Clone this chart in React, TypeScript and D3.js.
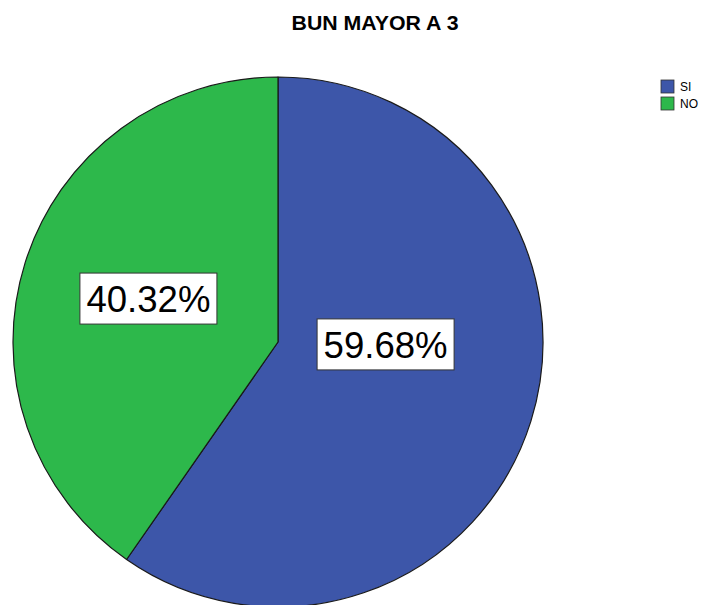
import React from "react";
import * as d3 from "d3";

const categories = ["SI", "NO"];
const values = [59.68, 40.32];
const colors = ["#3D56A9", "#2DB84B"];
const labelTexts = ["59.68%", "40.32%"];
const title = "BUN MAYOR A 3";

const W = 703;
const H = 605;
const cx = 278;
const cy = 342;
const R = 265;
// label layout offsets (relative to pie center, as fraction of radius)
const labelOffsets = [
  [0.406, 0.011],
  [-0.489, -0.162],
];

export default function App() {
  const pie = d3.pie<number>().sort(null).startAngle(0).endAngle(2 * Math.PI)(values);
  const arc = d3.arc<d3.PieArcDatum<number>>().innerRadius(0).outerRadius(R);
  return (
    <svg width={W} height={H} style={{ position: "absolute", left: 0, top: 0, background: "#fff" }}>
      <rect width={W} height={H} fill="#fff" />
      <text x={375} y={30} textAnchor="middle" fontFamily="Liberation Sans, Arial, sans-serif" fontWeight="bold" fontSize={20} textLength={167} lengthAdjust="spacingAndGlyphs">
        {title}
      </text>
      <g transform={`translate(${cx},${cy})`}>
        {pie.map((d, i) => (
          <path key={i} d={arc(d) || ""} fill={colors[i]} stroke="#1a1a1a" strokeWidth={1.2} strokeLinejoin="round" />
        ))}
        {pie.map((d, i) => {
          const x = labelOffsets[i][0] * R;
          const y = labelOffsets[i][1] * R;
          return (
            <g key={"l" + i} transform={`translate(${x},${y})`}>
              <rect x={-68.5} y={-26} width={137} height={51} fill="#fff" stroke="#333" strokeWidth={1} />
              <text x={0} y={13} textAnchor="middle" fontFamily="Liberation Sans, Arial, sans-serif" fontSize={37} textLength={124} lengthAdjust="spacingAndGlyphs" fill="#000">
                {labelTexts[i]}
              </text>
            </g>
          );
        })}
      </g>
      <g transform="translate(661,80)">
        {categories.map((c, i) => (
          <g key={c} transform={`translate(0,${i * 17})`}>
            <rect x={0} y={0} width={13} height={13} fill={colors[i]} stroke="#333" strokeWidth={0.8} />
            <text x={19} y={11} fontFamily="Liberation Sans, Arial, sans-serif" fontSize={12} fill="#000">
              {c}
            </text>
          </g>
        ))}
      </g>
    </svg>
  );
}
